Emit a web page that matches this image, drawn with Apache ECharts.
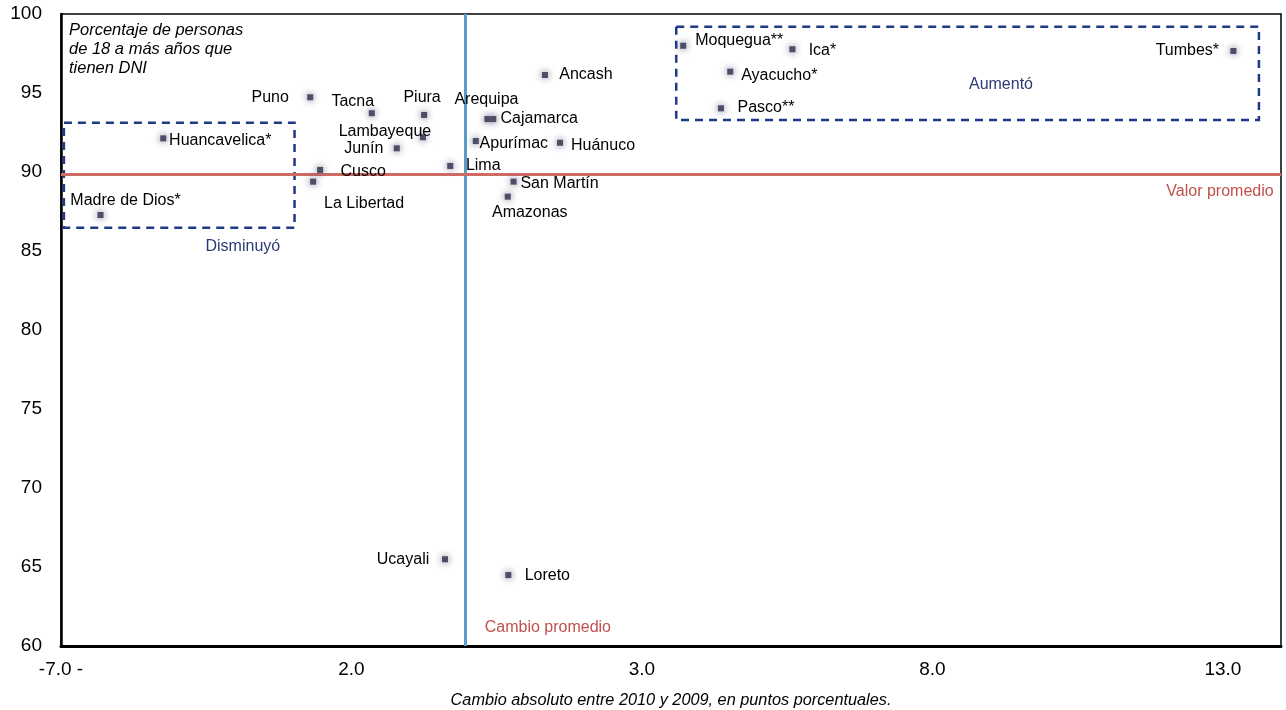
<!DOCTYPE html>
<html>
<head>
<meta charset="utf-8">
<script src="https://cdn.jsdelivr.net/npm/echarts@6/dist/echarts.min.js"></script>
<style>
html,body{margin:0;padding:0;background:#fff;}
#chart{width:1286px;height:710px;}
</style>
</head>
<body>
<div id="chart"></div>
<script>
// ---- Data ----
const regions = ['Madre de Dios*','Huancavelica*','Puno','Tacna','Piura','Lambayeque','Junín','Cusco','La Libertad','Lima','Arequipa','Cajamarca','Apurímac','Huánuco','Ancash','San Martín','Amazonas','Ucayali','Loreto','Moquegua**','Ica*','Ayacucho*','Pasco**','Tumbes*'];
const changePts = [-6.32,-5.24,-2.71,-1.65,-0.75,-0.77,-1.22,-2.54,-2.66,-0.30,0.34,0.44,0.14,1.59,1.33,0.79,0.69,-0.39,0.70,3.71,5.59,4.52,4.36,13.18];
const pctDni = [87.28,92.13,94.73,93.72,93.61,92.20,91.50,90.13,89.39,90.38,93.35,93.35,91.96,91.85,96.14,89.39,88.44,65.49,64.49,97.99,97.77,96.35,94.03,97.66];

const avgChange = -0.04;   // Cambio promedio
const avgValue = 89.87;    // Valor promedio

const xTickValues = [-7, -2, 3, 8, 13];
const xTickLabels = ['-7.0 -', '2.0', '3.0', '8.0', '13.0'];

// Group boxes [xFrom, yTop, xTo, yBottom]
const boxDisminuyo = [-6.95, 93.12, -2.98, 86.47];
const boxAumento = [3.59, 99.20, 13.62, 93.29];

// ---- Presentation (label offsets in pixels, relative to the marker) ----
const labelOffsets = {
  'Madre de Dios*':[25,-14],'Huancavelica*':[57,2],'Puno':[-40,0],'Tacna':[-19,-12],
  'Piura':[-2,-17],'Lambayeque':[-38,-6],'Junín':[-33,0],'Cusco':[43,2],
  'La Libertad':[51,22],'Lima':[33,0],'Arequipa':[-1,-19],'Cajamarca':[46,0],
  'Apurímac':[38,3],'Huánuco':[43,3],'Ancash':[41,0],'San Martín':[46,2],
  'Amazonas':[22,16],'Ucayali':[-42,0],'Loreto':[39,1],'Moquegua**':[56,-5],
  'Ica*':[30,1],'Ayacucho*':[49,4],'Pasco**':[45,-1],'Tumbes*':[-46,0]
};
// Annotation texts placed in data coordinates
const notes = [
  {text:'Aumentó', x:9.18, y:95.51, color:'#2b3a78'},
  {text:'Disminuyó', x:-3.87, y:85.30, color:'#2b3a78'},
  {text:'Valor promedio', x:12.95, y:88.73, color:'#c0504d'},
  {text:'Cambio promedio', x:1.38, y:61.14, color:'#c0504d'}
];

const FONT = '"Liberation Sans", Arial, sans-serif';
const points = regions.map((n, i) => ({
  name: n,
  value: [changePts[i], pctDni[i]],
  label: {offset: labelOffsets[n] || [0,0]}
}));

const boxStyle = {color:'rgba(0,0,0,0)', borderColor:'#1f3a86', borderWidth:2.5, borderType:[8,6], opacity:1};

const chart = echarts.init(document.getElementById('chart'), null, {renderer:'canvas'});
chart.setOption({
  animation:false,
  backgroundColor:'#fff',
  grid:{left:61, right:5, top:14, bottom:64, outerBoundsMode:'none', containLabel:false,
        show:true, borderColor:'#000', borderWidth:1.5, backgroundColor:'transparent'},
  xAxis:{
    type:'value', min:-7, max:14, interval:5,
    axisLine:{show:true, onZero:false, lineStyle:{color:'#000', width:3}},
    axisTick:{show:false}, splitLine:{show:false},
    axisLabel:{
      fontFamily:FONT, fontSize:19, color:'#000', margin:14, showMaxLabel:false,
      formatter:v => { const k = xTickValues.indexOf(Math.round(v)); return k >= 0 ? xTickLabels[k] : ''; }
    },
    name:'Cambio absoluto entre 2010 y 2009, en puntos porcentuales.',
    nameLocation:'middle', nameGap:46,
    nameTextStyle:{fontFamily:FONT, fontSize:16.3, fontStyle:'italic', color:'#000'}
  },
  yAxis:{
    type:'value', min:60, max:100, interval:5,
    axisLine:{show:true, onZero:false, lineStyle:{color:'#000', width:2.5}},
    axisTick:{show:false}, splitLine:{show:false},
    axisLabel:{fontFamily:FONT, fontSize:19, color:'#000', margin:19}
  },
  graphic:[{
    type:'text', left:69, top:21,
    style:{text:'Porcentaje de personas\nde 18 a más años que\ntienen DNI', font:'italic 16.5px ' + FONT, fill:'#000', lineHeight:19}
  }],
  series:[
    {
      type:'scatter', name:'DNI', z:5,
      symbol:'rect', symbolSize:6,
      itemStyle:{color:'#4d4d66', opacity:1, shadowBlur:7, shadowColor:'rgba(80,80,120,0.9)'},
      label:{show:true, position:'inside', formatter:'{b}', fontFamily:FONT, fontSize:16, color:'#000', opacity:1},
      emphasis:{disabled:true},
      data:points,
      markLine:{
        silent:true, symbol:'none', animation:false, z:3,
        label:{show:false},
        data:[
          {xAxis:avgChange, lineStyle:{color:'#5b9dc9', width:3, type:'solid', opacity:1}},
          {yAxis:avgValue, lineStyle:{color:'#cf6b65', width:3, type:'solid', opacity:1}}
        ]
      },
      markArea:{
        silent:true,
        itemStyle:boxStyle,
        data:[
          [{coord:[boxDisminuyo[0], boxDisminuyo[1]]},{coord:[boxDisminuyo[2], boxDisminuyo[3]]}],
          [{coord:[boxAumento[0], boxAumento[1]]},{coord:[boxAumento[2], boxAumento[3]]}]
        ]
      }
    },
    {
      type:'scatter', name:'notes', silent:true, symbolSize:0, z:6,
      itemStyle:{opacity:1},
      label:{show:true, position:'inside', formatter:'{b}', fontFamily:FONT, fontSize:16},
      data:notes.map(n => ({name:n.text, value:[n.x, n.y], label:{color:n.color}}))
    }
  ]
});
</script>
</body>
</html>
